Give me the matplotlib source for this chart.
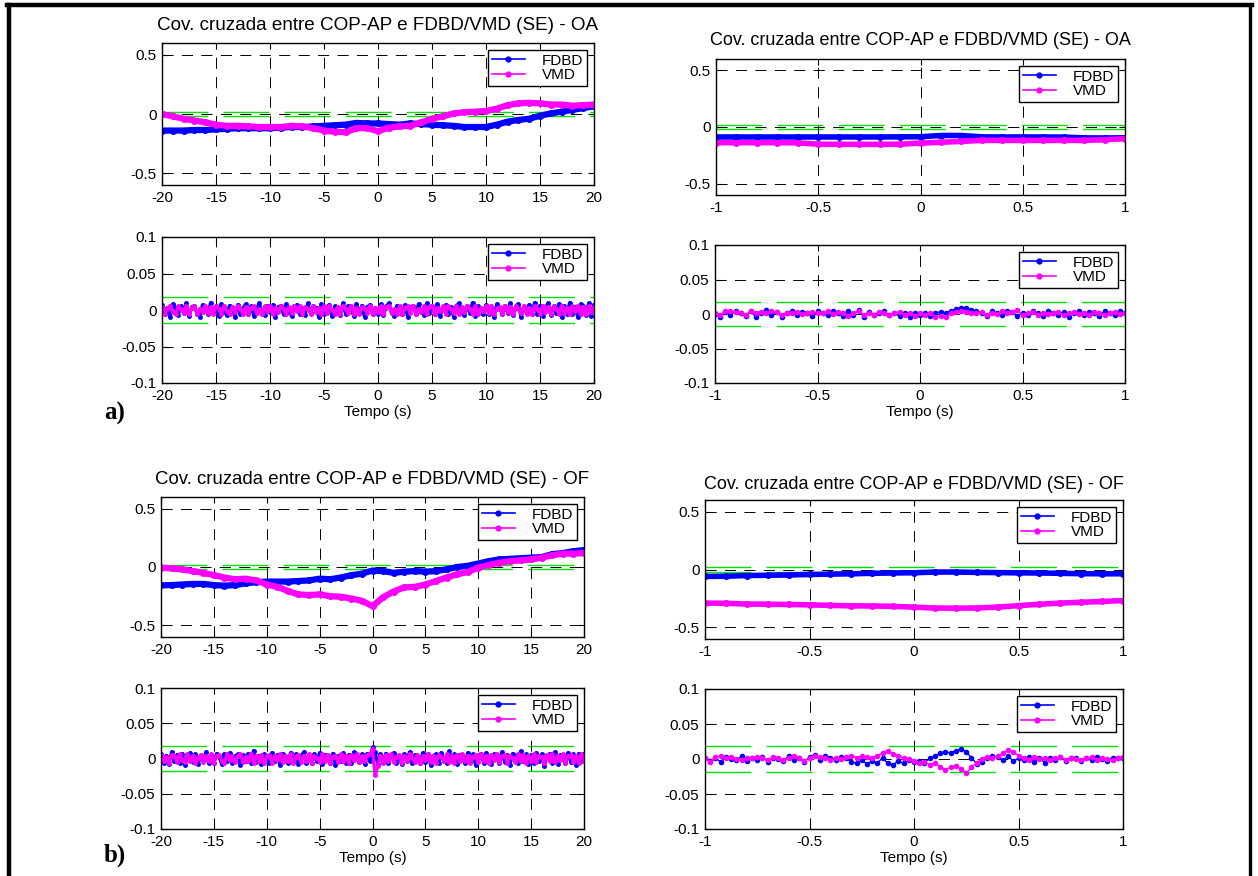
import numpy as np
import matplotlib
matplotlib.use("Agg")
import matplotlib.pyplot as plt
from matplotlib.lines import Line2D

plt.rcParams["font.family"] = ["Liberation Sans", "DejaVu Sans"]
plt.rcParams["axes.unicode_minus"] = False
plt.rcParams["lines.scale_dashes"] = False

W, H, DPI = 1258, 876, 100

# cross-covariance, full lag range (-20..20 s, 1 s step)
cov_fdbd_oa = [-0.140, -0.140, -0.140, -0.135, -0.135, -0.130, -0.125, -0.120, -0.120, -0.120,
               -0.120, -0.115, -0.110, -0.110, -0.105, -0.100, -0.095, -0.090, -0.075, -0.080,
               -0.080, -0.085, -0.090, -0.080, -0.085, -0.090, -0.095, -0.100, -0.110, -0.110,
               -0.110, -0.090, -0.065, -0.050, -0.040, -0.015, 0.005, 0.020, 0.035, 0.050,
               0.065]
cov_vmd_oa = [0.000, -0.020, -0.040, -0.055, -0.070, -0.090, -0.100, -0.100, -0.105, -0.110,
              -0.110, -0.110, -0.100, -0.105, -0.120, -0.140, -0.150, -0.155, -0.120, -0.120,
              -0.145, -0.115, -0.105, -0.100, -0.070, -0.040, -0.020, 0.005, 0.015, 0.020,
              0.025, 0.045, 0.075, 0.090, 0.095, 0.090, 0.080, 0.080, 0.070, 0.075,
              0.080]
cov_fdbd_of = [-0.157, -0.155, -0.150, -0.145, -0.145, -0.155, -0.160, -0.155, -0.140, -0.130,
               -0.125, -0.125, -0.125, -0.120, -0.115, -0.100, -0.105, -0.090, -0.070, -0.057,
               -0.030, -0.035, -0.050, -0.040, -0.035, -0.040, -0.035, -0.020, 0.000, 0.010,
               0.030, 0.050, 0.065, 0.070, 0.075, 0.080, 0.085, 0.110, 0.120, 0.135,
               0.145]
cov_vmd_of = [-0.005, -0.012, -0.020, -0.035, -0.050, -0.070, -0.090, -0.105, -0.100, -0.115,
              -0.150, -0.170, -0.205, -0.235, -0.240, -0.235, -0.250, -0.255, -0.270, -0.290,
              -0.335, -0.260, -0.210, -0.175, -0.170, -0.150, -0.120, -0.090, -0.063, -0.043,
              -0.005, 0.017, 0.037, 0.050, 0.057, 0.065, 0.080, 0.100, 0.115, 0.115,
              0.120]

# cross-covariance around zero lag (-1..1 s, 0.1 s step)
cov_fdbd_oa_zoom = [-0.088, -0.088, -0.088, -0.088, -0.088, -0.088, -0.088, -0.088, -0.088, -0.087,
                    -0.086, -0.075, -0.075, -0.087, -0.088, -0.088, -0.088, -0.089, -0.096, -0.097,
                    -0.095]
cov_vmd_oa_zoom = [-0.138, -0.138, -0.138, -0.138, -0.140, -0.152, -0.153, -0.153, -0.153, -0.152,
                   -0.142, -0.135, -0.127, -0.118, -0.118, -0.118, -0.118, -0.118, -0.118, -0.112,
                   -0.103]
cov_fdbd_of_zoom = [-0.060, -0.058, -0.052, -0.050, -0.047, -0.043, -0.040, -0.037, -0.033, -0.030,
                    -0.028, -0.022, -0.022, -0.025, -0.027, -0.029, -0.030, -0.033, -0.036, -0.037,
                    -0.037]
cov_vmd_of_zoom = [-0.290, -0.292, -0.298, -0.300, -0.302, -0.305, -0.310, -0.314, -0.315, -0.318,
                   -0.325, -0.333, -0.334, -0.332, -0.325, -0.312, -0.300, -0.290, -0.283, -0.276,
                   -0.268]

# residual covariance, full lag range (0.25 s step)
res_fdbd_oa = [0.007, -0.006, 0.003, -0.009, 0.008, 0.002, -0.007, 0.005, -0.004, 0.009,
               -0.008, 0.004, 0.006, -0.005, -0.009, 0.007, 0.001, -0.006, 0.010, -0.003,
               0.005, -0.008, 0.008, -0.002, -0.007, 0.006, 0.004, -0.010, 0.007, -0.005,
               0.003, 0.008, -0.006, 0.005, -0.008, 0.002, 0.009, -0.004, -0.007, 0.006,
               -0.003, 0.007, -0.009, 0.004, 0.006, -0.006, 0.008, -0.002, -0.008, 0.005,
               0.007, -0.005, 0.002, -0.007, 0.009, -0.004, 0.006, 0.003, -0.009, 0.008,
               -0.006, 0.004, 0.007, -0.008, 0.005, -0.003, -0.007, 0.009, -0.005, 0.006,
               0.002, -0.008, 0.008, -0.004, 0.006, -0.009, 0.004, 0.007, -0.006, 0.003,
               -0.005, 0.008, -0.007, 0.005, 0.009, -0.004, -0.008, 0.006, 0.002, -0.006,
               0.007, -0.009, 0.004, 0.006, -0.005, 0.008, -0.003, -0.007, 0.009, -0.004,
               0.005, -0.006, 0.008, -0.008, 0.003, 0.007, -0.005, 0.004, -0.009, 0.006,
               0.009, -0.003, -0.007, 0.006, -0.004, 0.010, -0.008, 0.005, 0.002, -0.006,
               0.007, -0.005, 0.004, -0.009, 0.008, 0.003, -0.006, 0.006, -0.004, 0.009,
               -0.007, 0.005, 0.008, -0.010, 0.004, -0.003, 0.007, -0.006, 0.010, -0.005,
               0.006, -0.008, 0.003, 0.009, -0.007, 0.005, -0.004, 0.008, -0.009, 0.006,
               -0.005, 0.010, -0.006, 0.004, -0.010, 0.008, 0.005, -0.007, 0.009, -0.008,
               0.007]
res_vmd_oa = [0.004, -0.005, 0.002, 0.006, -0.003, -0.006, 0.005, 0.001, -0.004, 0.006,
              -0.005, 0.003, 0.005, -0.006, 0.002, -0.003, 0.006, -0.004, 0.004, -0.006,
              0.005, 0.002, -0.005, 0.006, -0.002, -0.006, 0.004, -0.003, 0.006, 0.001,
              -0.005, 0.004, -0.006, 0.003, 0.005, -0.004, 0.002, -0.006, 0.005, -0.002,
              0.006, -0.005, 0.003, -0.003, 0.005, 0.001, -0.006, 0.004, -0.004, 0.006,
              -0.002, 0.005, -0.006, 0.004, 0.002, -0.005, 0.006, -0.003, 0.003, -0.006,
              0.005, -0.004, 0.006, 0.000, -0.005, 0.004, -0.006, 0.005, 0.002, -0.004,
              0.006, -0.005, 0.003, -0.006, 0.004, 0.002, -0.004, 0.006, -0.005, 0.003,
              -0.003, 0.005, -0.006, 0.004, 0.006, -0.004, 0.002, -0.005, 0.005, -0.006,
              0.003, 0.005, -0.004, 0.006, -0.006, 0.002, -0.003, 0.005, -0.005, 0.004,
              0.006, -0.006, 0.003, -0.002, 0.005, -0.005, 0.006, 0.001, -0.004, 0.005,
              -0.006, 0.004, -0.003, 0.006, 0.002, -0.005, 0.005, -0.006, 0.003, -0.002,
              0.005, -0.004, 0.006, -0.006, 0.002, 0.004, -0.005, 0.006, -0.003, 0.004,
              -0.006, 0.005, 0.001, -0.004, 0.006, -0.005, 0.003, -0.006, 0.005, 0.002,
              -0.005, 0.006, -0.003, 0.004, -0.006, 0.005, 0.002, -0.005, 0.006, -0.004,
              0.003, -0.006, 0.005, -0.002, 0.006, -0.005, 0.004, -0.006, 0.005, -0.003,
              0.004]
res_fdbd_of = [0.006, -0.007, 0.004, -0.008, 0.009, -0.003, 0.005, -0.006, 0.007, -0.009,
               0.003, 0.008, -0.005, 0.006, -0.008, 0.004, -0.002, 0.009, -0.007, 0.005,
               -0.006, 0.007, 0.002, -0.008, 0.006, -0.004, 0.008, -0.007, 0.003, 0.006,
               -0.009, 0.005, -0.003, 0.007, -0.006, 0.011, -0.005, 0.004, -0.008, 0.006,
               0.002, -0.007, 0.008, -0.004, 0.005, -0.009, 0.007, 0.003, -0.006, 0.008,
               -0.005, 0.006, -0.008, 0.004, 0.009, -0.006, 0.002, -0.007, 0.006, -0.004,
               0.008, -0.008, 0.005, 0.003, -0.006, 0.007, -0.009, 0.004, -0.003, 0.008,
               -0.006, 0.005, -0.007, 0.009, 0.002, -0.005, 0.006, -0.008, 0.007, -0.004,
               0.016, 0.009, -0.008, 0.006, -0.005, 0.007, -0.007, 0.004, 0.008, -0.006,
               0.003, -0.008, 0.006, -0.004, 0.009, -0.006, 0.005, 0.002, -0.007, 0.008,
               -0.005, 0.007, -0.009, 0.004, 0.006, -0.006, 0.008, -0.003, -0.007, 0.010,
               -0.004, 0.006, -0.008, 0.005, 0.003, -0.007, 0.008, -0.005, 0.006, -0.009,
               0.004, 0.007, -0.006, 0.008, -0.004, -0.008, 0.006, 0.002, -0.007, 0.009,
               -0.005, 0.005, -0.009, 0.007, 0.003, -0.006, 0.010, -0.004, 0.006, -0.008,
               0.005, -0.007, 0.008, -0.003, 0.006, -0.010, 0.004, 0.007, -0.006, 0.009,
               -0.008, 0.005, 0.003, -0.007, 0.008, -0.005, 0.006, -0.009, 0.007, -0.004,
               0.006]
res_vmd_of = [0.005, -0.004, 0.002, -0.006, 0.005, 0.003, -0.005, 0.006, -0.002, -0.005,
              0.006, -0.003, 0.004, -0.006, 0.001, 0.005, -0.005, 0.003, -0.004, 0.006,
              -0.006, 0.004, 0.005, -0.003, -0.006, 0.006, -0.002, 0.004, -0.005, 0.003,
              0.006, -0.005, 0.002, -0.004, 0.007, -0.006, 0.004, -0.003, 0.005, -0.006,
              0.003, 0.005, -0.006, 0.004, -0.002, 0.006, -0.005, 0.003, -0.004, 0.006,
              -0.006, 0.002, 0.005, -0.005, 0.004, -0.003, 0.006, -0.006, 0.003, 0.001,
              -0.005, 0.006, -0.004, 0.005, -0.006, 0.002, 0.004, -0.005, 0.006, -0.003,
              0.004, -0.006, 0.005, -0.002, 0.006, -0.005, 0.003, -0.004, 0.005, 0.006,
              0.013, -0.024, -0.010, 0.004, -0.006, 0.005, -0.003, 0.006, -0.005, 0.002,
              0.005, -0.006, 0.004, -0.004, 0.006, 0.001, -0.005, 0.005, -0.006, 0.003,
              -0.002, 0.006, -0.005, 0.004, -0.006, 0.005, 0.002, -0.004, 0.006, -0.005,
              0.003, -0.006, 0.005, -0.003, 0.006, -0.004, 0.004, -0.006, 0.002, 0.005,
              -0.005, 0.006, -0.003, 0.004, -0.006, 0.005, -0.002, 0.006, -0.005, 0.003,
              0.005, -0.006, 0.004, 0.001, -0.005, 0.006, -0.004, 0.005, -0.006, 0.003,
              -0.003, 0.006, -0.005, 0.004, 0.002, -0.006, 0.005, -0.004, 0.006, -0.005,
              0.004, -0.002, 0.006, -0.006, 0.003, 0.005, -0.005, 0.004, -0.006, 0.006,
              -0.003]

# residual covariance around zero lag (0.025 s step)
res_fdbd_oa_zoom = [0.000, -0.004, 0.003, -0.002, 0.005, 0.001, -0.003, 0.004, -0.005, 0.002,
                    0.006, -0.001, 0.003, -0.004, 0.002, 0.004, -0.002, 0.003, 0.001, -0.003,
                    0.004, 0.002, -0.001, 0.005, 0.001, -0.003, 0.004, -0.002, 0.006, -0.004,
                    0.003, -0.001, 0.002, 0.004, -0.002, 0.001, -0.003, 0.002, -0.004, 0.001,
                    -0.002, 0.001, -0.003, 0.002, 0.003, 0.001, 0.005, 0.007, 0.009, 0.008,
                    0.006, 0.004, 0.002, -0.003, 0.004, 0.001, -0.002, 0.005, 0.003, -0.003,
                    0.002, -0.002, 0.004, 0.001, -0.003, 0.005, 0.002, -0.001, 0.003, -0.004,
                    0.002, 0.004, -0.002, 0.003, 0.001, -0.003, 0.004, 0.002, -0.002, 0.005,
                    0.001]
res_vmd_oa_zoom = [0.002, -0.002, 0.004, 0.005, 0.003, 0.001, -0.001, 0.004, 0.002, 0.003,
                   0.001, 0.004, 0.003, -0.001, 0.002, 0.001, 0.003, 0.000, 0.002, 0.003,
                   0.001, 0.002, 0.004, 0.000, 0.003, 0.002, -0.003, 0.001, 0.005, -0.002,
                   0.002, -0.001, 0.003, 0.001, -0.002, 0.002, 0.003, -0.001, 0.002, -0.003,
                   0.001, -0.001, 0.002, -0.004, -0.003, -0.005, 0.001, 0.003, 0.004, 0.003,
                   0.002, 0.001, 0.003, -0.001, 0.002, 0.000, 0.004, 0.001, 0.003, 0.006,
                   -0.002, 0.001, 0.003, -0.001, 0.002, 0.000, 0.002, 0.003, -0.002, 0.001,
                   0.003, 0.000, 0.002, -0.001, 0.003, 0.002, -0.002, 0.001, 0.003, 0.000,
                   0.001]
res_fdbd_of_zoom = [0.002, -0.003, 0.001, -0.004, 0.003, 0.000, -0.002, 0.004, -0.003, 0.001,
                    -0.002, 0.003, -0.004, 0.002, 0.000, -0.003, 0.004, -0.001, 0.002, -0.004,
                    0.003, 0.006, -0.001, 0.004, 0.002, -0.002, 0.003, 0.001, -0.004, -0.006,
                    -0.002, -0.007, -0.003, -0.005, 0.001, -0.006, -0.008, -0.003, -0.006, -0.002,
                    -0.004, -0.003, -0.005, 0.001, 0.004, 0.008, 0.010, 0.009, 0.012, 0.014,
                    0.010, 0.002, -0.007, -0.004, 0.002, 0.004, 0.003, -0.002, 0.004, -0.003,
                    0.001, -0.002, 0.003, -0.004, 0.001, -0.005, 0.002, -0.001, 0.003, -0.003,
                    0.001, 0.002, -0.003, 0.001, -0.002, 0.003, 0.000, -0.003, 0.002, 0.001,
                    0.002]
res_vmd_of_zoom = [0.001, -0.004, 0.003, 0.004, 0.001, 0.003, 0.000, -0.002, 0.002, 0.001,
                   0.003, 0.002, -0.001, 0.003, 0.001, -0.002, 0.002, 0.004, 0.001, -0.003,
                   0.002, 0.004, 0.003, 0.001, -0.001, 0.002, 0.000, 0.003, 0.005, 0.002,
                   0.004, 0.003, 0.001, 0.005, 0.008, 0.012, 0.007, 0.005, 0.001, 0.000,
                   -0.003, -0.005, -0.004, -0.008, -0.006, -0.011, -0.015, -0.012, -0.010, -0.014,
                   -0.020, -0.012, -0.005, 0.000, 0.003, 0.002, 0.004, 0.008, 0.013, 0.010,
                   0.005, 0.002, -0.001, 0.003, 0.000, 0.002, -0.002, 0.001, 0.003, -0.001,
                   0.002, 0.000, -0.002, 0.001, 0.003, -0.001, 0.002, 0.000, -0.002, 0.001,
                   0.003]

conf_bound = 0.018
series_names = ["FDBD", "VMD"]
titles = ["Cov. cruzada entre COP-AP e FDBD/VMD (SE) - OA",
          "Cov. cruzada entre COP-AP e FDBD/VMD (SE) - OF"]
xticks_full = [-20, -15, -10, -5, 0, 5, 10, 15, 20]
xticklabels_full = ["-20", "-15", "-10", "-5", "0", "5", "10", "15", "20"]
xticks_zoom = [-1, -0.5, 0, 0.5, 1]
xticklabels_zoom = ["-1", "-0.5", "0", "0.5", "1"]
yticks_cov = [-0.5, 0, 0.5]
yticklabels_cov = ["-0.5", "0", "0.5"]
yticks_res = [-0.1, -0.05, 0, 0.05, 0.1]
yticklabels_res = ["-0.1", "-0.05", "0", "0.05", "0.1"]

BLUE, MAGENTA, GREEN = "#0000ff", "#ff00ff", "#00e000"
GRID_DASH = (0, (8, 6))
CONF_DASH = (0, (33, 11))


def add_axes_px(fig, x0, x1, y0, y1):
    return fig.add_axes([x0 / W, 1 - y1 / H, (x1 - x0) / W, (y1 - y0) / H])


def draw_panel(ax, span, fdbd, vmd, xticks, xticklabels, yticks, yticklabels,
               ylim, lw, ms, title=None, title_pad=6, title_size=13, xlabel=False):
    t1 = np.linspace(-span, span, len(fdbd))
    t2 = np.linspace(-span, span, len(vmd))
    for level in (conf_bound, -conf_bound):
        ax.axhline(level, color=GREEN, lw=1.0, linestyle=CONF_DASH, zorder=1.5)
    ax.plot(t1, fdbd, color=BLUE, lw=lw, marker=".", ms=ms, zorder=2)
    ax.plot(t2, vmd, color=MAGENTA, lw=lw, marker=".", ms=ms, zorder=2.1)

    ax.set_xlim(-span, span)
    ax.set_ylim(*ylim)
    ax.set_xticks(xticks)
    ax.set_xticklabels(xticklabels)
    ax.set_yticks(yticks)
    ax.set_yticklabels(yticklabels)
    ax.tick_params(direction="in", length=4, width=0.8, top=True, right=True,
                   labelsize=11, pad=4, colors="black")
    ax.grid(True, color="black", lw=0.7, linestyle=GRID_DASH)
    for sp in ax.spines.values():
        sp.set_linewidth(1.0)
        sp.set_color("black")
    if title:
        ax.set_title(title, fontsize=title_size, pad=title_pad)
    if xlabel:
        ax.set_xlabel("Tempo (s)", fontsize=11, labelpad=2)

    handles = [Line2D([], [], color=BLUE, lw=1.2, marker=".", ms=7),
               Line2D([], [], color=MAGENTA, lw=1.2, marker=".", ms=7)]
    leg = ax.legend(handles, series_names, loc="upper right", fontsize=11,
                    fancybox=False, framealpha=1, edgecolor="black",
                    borderpad=0.25, labelspacing=0.05, handlelength=2.2,
                    handletextpad=1.1, borderaxespad=0.45)
    leg.get_frame().set_linewidth(1.0)


fig = plt.figure(figsize=(W / DPI, H / DPI), dpi=DPI)

# a) eyes open
ax = add_axes_px(fig, 162, 594, 43, 185)
draw_panel(ax, 20, cov_fdbd_oa, cov_vmd_oa, xticks_full, xticklabels_full,
           yticks_cov, yticklabels_cov, (-0.6, 0.6), 4.5, 8, titles[0], 9, 13.6)
ax = add_axes_px(fig, 162, 594, 237, 383)
draw_panel(ax, 20, res_fdbd_oa, res_vmd_oa, xticks_full, xticklabels_full,
           yticks_res, yticklabels_res, (-0.1, 0.1), 2.4, 5, xlabel=True)
ax = add_axes_px(fig, 716, 1125, 59, 195)
draw_panel(ax, 1, cov_fdbd_oa_zoom, cov_vmd_oa_zoom, xticks_zoom, xticklabels_zoom,
           yticks_cov, yticklabels_cov, (-0.6, 0.6), 4.0, 8, titles[0], 10)
ax = add_axes_px(fig, 715, 1125, 245, 383)
draw_panel(ax, 1, res_fdbd_oa_zoom, res_vmd_oa_zoom, xticks_zoom, xticklabels_zoom,
           yticks_res, yticklabels_res, (-0.1, 0.1), 1.0, 6, xlabel=True)

# b) eyes closed
ax = add_axes_px(fig, 161, 584, 497, 637)
draw_panel(ax, 20, cov_fdbd_of, cov_vmd_of, xticks_full, xticklabels_full,
           yticks_cov, yticklabels_cov, (-0.6, 0.6), 4.5, 8, titles[1], 9, 13.4)
ax = add_axes_px(fig, 161, 584, 688, 829)
draw_panel(ax, 20, res_fdbd_of, res_vmd_of, xticks_full, xticklabels_full,
           yticks_res, yticklabels_res, (-0.1, 0.1), 2.4, 5, xlabel=True)
ax = add_axes_px(fig, 705, 1123, 500, 639)
draw_panel(ax, 1, cov_fdbd_of_zoom, cov_vmd_of_zoom, xticks_zoom, xticklabels_zoom,
           yticks_cov, yticklabels_cov, (-0.6, 0.6), 4.0, 8, titles[1], 8)
ax = add_axes_px(fig, 705, 1123, 689, 829)
draw_panel(ax, 1, res_fdbd_of_zoom, res_vmd_of_zoom, xticks_zoom, xticklabels_zoom,
           yticks_res, yticklabels_res, (-0.1, 0.1), 1.0, 6, xlabel=True)

# panel letters
for label, y in (("a)", 413), ("b)", 855)):
    fig.text(104 / W, 1 - y / H, label, family=["Liberation Serif", "DejaVu Serif"],
             fontsize=18, fontweight="bold", va="center", ha="left")

# page frame (left, top, right)
fig.add_artist(Line2D([9 / W, 9 / W], [0, 1 - 5 / H], transform=fig.transFigure,
                      color="black", lw=3.2))
fig.add_artist(Line2D([7 / W, 1252 / W], [1 - 5 / H, 1 - 5 / H], transform=fig.transFigure,
                      color="black", lw=3.2))
fig.add_artist(Line2D([1250 / W, 1250 / W], [0, 1 - 5 / H], transform=fig.transFigure,
                      color="black", lw=2.4))

fig.savefig("out.png", dpi=DPI, facecolor="white")
